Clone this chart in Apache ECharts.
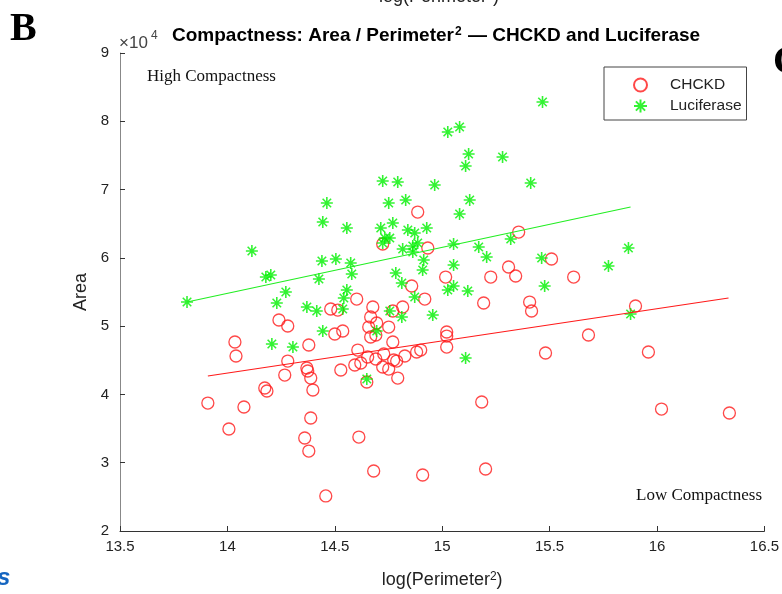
<!DOCTYPE html>
<html>
<head>
<meta charset="utf-8">
<script src="https://cdn.jsdelivr.net/npm/echarts@6/dist/echarts.min.js"></script>
<style>html,body{margin:0;padding:0;background:#fff;}#c{width:782px;height:594px;}</style>
</head>
<body>
<div id="c"></div>
<script>
// ---- data ----
const seriesNames = ['CHCKD', 'Luciferase'];
const xTickValues = [13.5, 14, 14.5, 15, 15.5, 16, 16.5];
const yTickValues = [20000, 30000, 40000, 50000, 60000, 70000, 80000, 90000];

const chckdX = [14.481,14.514,14.240,14.281,14.500,14.537,14.035,14.040,14.379,14.281,14.370,14.374,14.388,14.267,14.528,14.174,14.184,14.398,13.909,14.077,14.388,14.007,14.360,14.379,14.458,14.602,14.677,14.816,14.770,14.667,14.695,14.658,14.751,14.667,14.691,14.770,15.021,15.021,15.021,14.607,14.593,14.621,14.653,14.691,14.728,14.723,14.751,14.774,14.788,14.826,14.881,14.900,14.649,14.793,14.858,14.919,14.886,14.723,14.933,15.356,15.309,15.342,15.226,15.016,15.193,15.407,15.416,15.184,14.612,14.681,14.909,15.202,15.481,15.509,15.612,15.900,15.681,15.960,16.021,16.337];
const chckdY = [52510,52360,50900,50020,48850,49290,47680,45630,47240,44890,43870,43430,42400,42840,43580,40940,40500,40650,38740,38160,36550,34940,33620,31710,25130,53970,52800,52800,52220,51340,50460,49870,49870,48410,48700,47680,49140,48550,46940,46500,44310,44600,45480,45190,45920,44020,43720,45040,44890,45630,46210,46500,41820,42400,55880,53970,66710,62030,61440,63780,58660,57340,57190,57190,53390,53530,52220,38890,33760,28790,28200,29080,46070,59830,57190,52950,48700,46210,37860,37280];

const lucX = [13.812,14.114,14.179,14.202,14.230,14.272,14.370,14.416,14.426,14.440,14.444,14.463,14.505,14.444,14.207,14.305,14.556,14.574,14.579,14.556,14.542,14.537,14.714,14.723,14.793,14.751,14.830,14.770,14.840,14.872,14.928,14.733,14.756,14.723,14.816,14.863,14.863,14.886,14.914,14.909,14.784,14.812,14.872,14.756,14.812,14.956,14.695,14.649,14.965,15.026,15.081,15.123,15.109,15.281,15.412,15.467,15.128,15.081,15.053,15.170,15.207,15.053,15.026,15.053,15.119,15.109,15.319,15.463,15.477,15.774,15.867,15.877];
const lucY = [53530,61000,57190,57490,53390,55000,52800,52220,56900,59540,65250,68030,59830,49290,47380,46940,64370,59240,57630,55290,54120,52510,64370,71250,71110,68030,68470,65100,64080,63640,64370,62900,62900,62170,61290,61730,60850,62170,59680,58220,57780,56320,54270,52220,51340,51630,49290,42260,70670,78430,79160,75210,73450,74770,70960,82820,68470,66420,62030,61590,60120,58950,55290,55880,55140,45330,62760,59980,55880,58800,61440,51780];

const fitChckdX = [13.909, 16.333];
const fitChckdY = [42700, 54120];
const fitLucX = [13.812, 15.877];
const fitLucY = [53530, 67450];

const zip = (a, b) => a.map((v, i) => [v, b[i]]);

const starPath = 'path://M0,-10L0,10M-10,0L10,0M-7.07,-7.07L7.07,7.07M-7.07,7.07L7.07,-7.07';
const sans = 'Liberation Sans';
const serif = 'Liberation Serif';

const chart = echarts.init(document.getElementById('c'), null, {renderer: 'canvas'});
chart.setOption({
  animation: false,
  backgroundColor: '#fff',
  title: {
    text: '{a|Compactness: Area / Perimeter}{s|2}{a| — CHCKD and Luciferase}',
    left: 172, top: 26, padding: 0,
    textStyle: {
      rich: {
        a: {fontSize: 19, fontWeight: 'bold', fontFamily: sans, color: '#000'},
        s: {fontSize: 12, fontWeight: 'bold', fontFamily: sans, color: '#000', verticalAlign: 'top', padding: [0, 1, 0, 1]}
      }
    }
  },
  legend: {
    orient: 'vertical',
    left: 604, top: 67,
    padding: [10, 5, 6, 29],
    itemGap: 5,
    itemWidth: 13, itemHeight: 13,
    borderColor: '#444', borderWidth: 1,
    backgroundColor: '#fff',
    data: seriesNames,
    textStyle: {fontFamily: sans, fontSize: 15.5, color: '#222', lineHeight: 15, padding: [0, 0, 0, 18]}
  },
  grid: {left: 120, right: 17, top: 53, bottom: 63, containLabel: false},
  xAxis: {
    type: 'value', min: 13.5, max: 16.5, interval: 0.5,
    name: '{n|log(Perimeter}{s|2}{n|)}', nameLocation: 'middle', nameGap: 40,
    nameTextStyle: {
      rich: {
        n: {fontSize: 18, fontFamily: sans, color: '#222'},
        s: {fontSize: 12, fontFamily: sans, color: '#222', verticalAlign: 'top'}
      }
    },
    axisLine: {show: true, lineStyle: {color: '#333', width: 1}},
    axisTick: {show: true, inside: true, length: 5, lineStyle: {color: '#333'}},
    axisLabel: {fontFamily: sans, fontSize: 15, color: '#222', margin: 8,
      customValues: xTickValues, formatter: v => String(v)},
    splitLine: {show: false}
  },
  yAxis: {
    type: 'value', min: 20000, max: 90000, interval: 10000,
    name: 'Area', nameLocation: 'middle', nameGap: 26, nameRotate: 90,
    nameTextStyle: {fontFamily: sans, fontSize: 18, color: '#222'},
    axisLine: {show: true, lineStyle: {color: '#888', width: 1}},
    axisTick: {show: true, inside: true, length: 5, lineStyle: {color: '#333'}},
    axisLabel: {fontFamily: sans, fontSize: 15, color: '#222', margin: 11,
      formatter: v => String(Math.round(v / 10000))},
    splitLine: {show: false}
  },
  series: [
    {
      name: seriesNames[0], type: 'scatter', data: zip(chckdX, chckdY),
      symbol: 'circle', symbolSize: 12,
      itemStyle: {color: 'rgba(255,0,0,0)', borderColor: '#ff1a1a', borderWidth: 1.3},
      emphasis: {disabled: true}, z: 2
    },
    {
      name: seriesNames[1], type: 'scatter', data: zip(lucX, lucY),
      symbol: starPath, symbolSize: 12,
      itemStyle: {color: 'rgba(0,255,0,0)', borderColor: '#00f000', borderWidth: 1.6},
      emphasis: {disabled: true}, z: 3
    },
    {
      name: 'fitC', type: 'line', data: zip(fitChckdX, fitChckdY),
      symbol: 'none', lineStyle: {color: '#ff1a1a', width: 1.2}, z: 4, silent: true
    },
    {
      name: 'fitL', type: 'line', data: zip(fitLucX, fitLucY),
      symbol: 'none', lineStyle: {color: '#22ee22', width: 1.2}, z: 4, silent: true
    }
  ],
  graphic: [
    {type: 'text', left: 10, top: 10, style: {text: 'B', font: 'bold 40px ' + serif, fill: '#000'}},
    {type: 'text', x: 773, y: 63, style: {text: 'C', font: 'bold 40px ' + serif, fill: '#000', verticalAlign: 'middle'}},
    {type: 'text', x: 439, y: -3, style: {text: 'log(Perimeter²)', font: '18px ' + sans, fill: '#222', align: 'center', verticalAlign: 'middle'}},
    {type: 'text', x: -3, y: 578, style: {text: 's', font: 'italic bold 24px ' + sans, fill: '#1565c0', verticalAlign: 'middle'}},
    {type: 'text', x: 119, y: 43, style: {text: '×10', font: '17px ' + sans, fill: '#444', verticalAlign: 'middle'}},
    {type: 'text', x: 151, y: 36, style: {text: '4', font: '12px ' + sans, fill: '#444', verticalAlign: 'middle'}},
    {type: 'text', x: 147, y: 77, style: {text: 'High Compactness', font: '17px ' + serif, fill: '#111', verticalAlign: 'middle'}},
    {type: 'text', x: 636, y: 496, style: {text: 'Low Compactness', font: '17px ' + serif, fill: '#111', verticalAlign: 'middle'}}
  ]
});
</script>
</body>
</html>
